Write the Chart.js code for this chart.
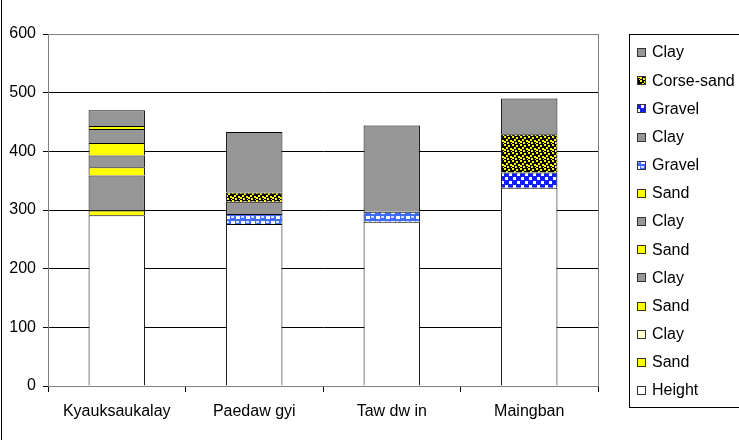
<!DOCTYPE html>
<html>
<head>
<meta charset="utf-8">
<script src="https://cdn.jsdelivr.net/npm/chart.js@4"></script>
<style>
  html, body { margin: 0; padding: 0; background: #fff; }
  #wrap { width: 739px; height: 440px; position: relative; }
</style>
</head>
<body>
<div id="wrap"><canvas id="c" width="739" height="440"></canvas></div>
<script>
// Borehole profiles: ground height plus stacked soil layers (bottom to top)
const categories = ['Kyauksaukalay', 'Paedaw gyi', 'Taw dw in', 'Maingban'];
const yTicks = [0, 100, 200, 300, 400, 500, 600];

const height    = [291, 276, 280, 338];
const sand1     = [8, 0, 0, 0];
const clayLight = [60, 0, 0, 0];
const sand2     = [14, 0, 0, 0];
const clay2     = [20, 0, 0, 0];
const sand3     = [21, 0, 0, 0];
const clay3     = [24, 0, 0, 0];
const sand4     = [5, 0, 0, 0];
const gravel1   = [0, 17, 17, 0];
const clay4     = [27, 21, 147, 0];
const gravel2   = [0, 0, 0, 26];
const corseSand = [0, 16, 0, 65];
const clay5     = [0, 103, 0, 61];

const GRAY = '#969696', YELLOW = '#FFFF00', CREAM = '#FFFFCC', WHITE = '#FFFFFF';

function tile(w, h, draw) {
  const c = document.createElement('canvas');
  c.width = w; c.height = h;
  draw(c.getContext('2d'));
  return c.getContext('2d').createPattern(c, 'repeat');
}
// coarse sand: yellow grains on black
const corsePattern = tile(8, 8, g => {
  g.fillStyle = '#000'; g.fillRect(0, 0, 8, 8);
  g.fillStyle = '#FFFF00';
  [[0,0],[4,1],[2,3],[6,4],[0,5],[3,6],[7,7]].forEach(([x, y]) => g.fillRect(x, y, 2, 2));
});
// light gravel: blue with white checks
const gravelLight = tile(10, 10, g => {
  g.fillStyle = '#3F6BFF'; g.fillRect(0, 0, 10, 10);
  g.fillStyle = '#FFFFFF';
  g.fillRect(1, 1, 4, 3); g.fillRect(6, 6, 4, 3);
  g.fillStyle = '#D6E0FF'; g.fillRect(6, 1, 3, 2); g.fillRect(1, 6, 3, 2);
});
// dense gravel: deep blue with white pebbles
const gravelDark = tile(8, 8, g => {
  g.fillStyle = '#1020F0'; g.fillRect(0, 0, 8, 8);
  g.fillStyle = '#FFFFFF';
  g.fillRect(1, 1, 3, 3); g.fillRect(5, 5, 3, 3);
});

const nz = arr => arr.map(v => (v === 0 ? null : v));

const layers = [
  { label: 'Height',     data: height,    color: WHITE },
  { label: 'Sand',       data: sand1,     color: YELLOW },
  { label: 'Clay',       data: clayLight, color: [GRAY, CREAM, CREAM, CREAM], legend: CREAM },
  { label: 'Sand',       data: sand2,     color: YELLOW },
  { label: 'Clay',       data: clay2,     color: GRAY },
  { label: 'Sand',       data: sand3,     color: YELLOW },
  { label: 'Clay',       data: clay3,     color: GRAY },
  { label: 'Sand',       data: sand4,     color: YELLOW },
  { label: 'Gravel',     data: gravel1,   color: gravelLight },
  { label: 'Clay',       data: clay4,     color: GRAY },
  { label: 'Gravel',     data: gravel2,   color: gravelDark },
  { label: 'Corse-sand', data: corseSand, color: corsePattern },
  { label: 'Clay',       data: clay5,     color: GRAY }
];

const datasets = layers.map(l => ({
  label: l.label,
  data: nz(l.data),
  backgroundColor: l.color,
  legendColor: l.legend || l.color,
  borderColor: '#000',
  borderWidth: 1,
  categoryPercentage: 1,
  barPercentage: 0.41
}));

const FONT = "'Liberation Sans', Arial, sans-serif";

// chart frame, plot border and boxed legend
const framePlugin = {
  id: 'frame',
  afterDraw(chart) {
    const ctx = chart.ctx, a = chart.chartArea;
    ctx.save();
    ctx.strokeStyle = '#808080'; ctx.lineWidth = 1;
    ctx.strokeRect(Math.round(a.left) + 0.5, Math.round(a.top) + 0.5,
                   Math.round(a.right - a.left), Math.round(a.bottom - a.top));
    ctx.strokeStyle = '#000';
    ctx.beginPath(); ctx.moveTo(1.5, 0); ctx.lineTo(1.5, 440); ctx.stroke();

    // legend, top entry = top layer
    const lx = 629, ly = 34, lw = 140, lh = 373;
    ctx.strokeRect(lx + 0.5, ly + 0.5, lw, lh);
    const items = chart.data.datasets.slice().reverse();
    ctx.font = '16px ' + FONT;
    ctx.textBaseline = 'middle';
    items.forEach((d, i) => {
      const y = 52 + i * 28.17;
      const sy = Math.round(y - 4) + 0.5;
      ctx.fillStyle = d.legendColor;
      ctx.fillRect(637, sy, 8, 8);
      ctx.strokeStyle = '#333';
      ctx.strokeRect(637.5, sy, 8, 8);
      ctx.fillStyle = '#000';
      ctx.fillText(d.label, 652, y + 1);
    });
    ctx.restore();
  }
};

new Chart(document.getElementById('c'), {
  type: 'bar',
  data: { labels: categories, datasets },
  options: {
    responsive: false,
    animation: false,
    layout: { padding: { left: 0, top: 34, right: 141, bottom: 14 } },
    plugins: { legend: { display: false }, tooltip: { enabled: false } },
    scales: {
      x: {
        stacked: true,
        offset: true,
        grid: { display: true, drawOnChartArea: false, offset: true, color: '#000', tickLength: 6 },
        border: { display: true, color: '#000' },
        ticks: { color: '#000', font: { family: FONT, size: 16 }, padding: 10, maxRotation: 0 },
        afterFit(s) { s.height = 40; }
      },
      y: {
        stacked: true,
        min: 0, max: 600,
        afterBuildTicks(s) { s.ticks = yTicks.map(v => ({ value: v })); },
        grid: { color: '#000', tickLength: 5 },
        border: { display: true, color: '#000' },
        ticks: { color: '#000', font: { family: FONT, size: 16 }, padding: 7 },
        afterFit(s) { s.width = 48; }
      }
    }
  },
  plugins: [framePlugin]
});
</script>
</body>
</html>
